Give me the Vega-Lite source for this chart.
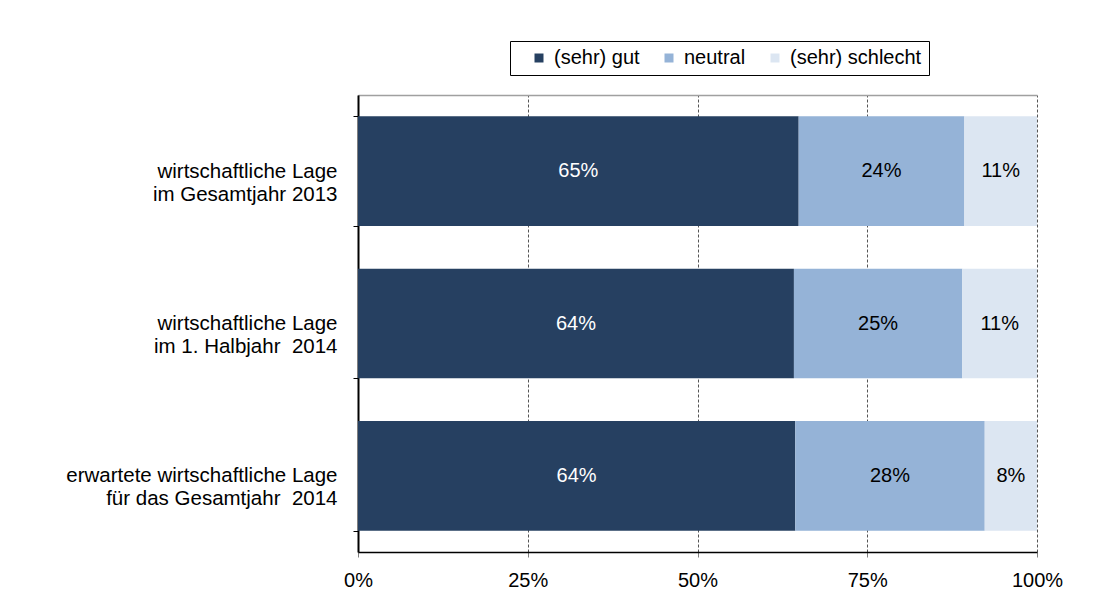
{
  "$schema": "https://vega.github.io/schema/vega-lite/v6.json",
  "width": 679,
  "height": 457,
  "autosize": "none",
  "padding": {"left": 358, "top": 95, "right": 73, "bottom": 64},
  "background": "white",
  "data": {
    "values": [
      {"lage": "wirtschaftliche Lage|im Gesamtjahr 2013", "kat": "(sehr) gut", "ord": 1, "anteil": 0.649},
      {"lage": "wirtschaftliche Lage|im Gesamtjahr 2013", "kat": "neutral", "ord": 2, "anteil": 0.244},
      {"lage": "wirtschaftliche Lage|im Gesamtjahr 2013", "kat": "(sehr) schlecht", "ord": 3, "anteil": 0.107},
      {"lage": "wirtschaftliche Lage|im 1. Halbjahr\u00a0 2014", "kat": "(sehr) gut", "ord": 1, "anteil": 0.642},
      {"lage": "wirtschaftliche Lage|im 1. Halbjahr\u00a0 2014", "kat": "neutral", "ord": 2, "anteil": 0.248},
      {"lage": "wirtschaftliche Lage|im 1. Halbjahr\u00a0 2014", "kat": "(sehr) schlecht", "ord": 3, "anteil": 0.110},
      {"lage": "erwartete wirtschaftliche Lage|für das Gesamtjahr\u00a0 2014", "kat": "(sehr) gut", "ord": 1, "anteil": 0.644},
      {"lage": "erwartete wirtschaftliche Lage|für das Gesamtjahr\u00a0 2014", "kat": "neutral", "ord": 2, "anteil": 0.279},
      {"lage": "erwartete wirtschaftliche Lage|für das Gesamtjahr\u00a0 2014", "kat": "(sehr) schlecht", "ord": 3, "anteil": 0.077}
    ]
  },
  "transform": [
    {"stack": "anteil", "groupby": ["lage"], "sort": [{"field": "ord", "order": "ascending"}], "as": ["v0", "v1"], "offset": "normalize"},
    {"calculate": "(datum.v0 + datum.v1) / 2", "as": "mid"}
  ],
  "layer": [
    {
      "mark": {"type": "bar"},
      "encoding": {
        "y": {
          "field": "lage", "type": "nominal", "sort": null,
          "scale": {"paddingInner": 0.28, "paddingOuter": 0.14},
          "axis": {
            "title": null,
            "labelExpr": "split(datum.label, '|')",
            "labelFont": "Liberation Sans", "labelFontSize": 20.5, "labelColor": "#000000",
            "labelLineHeight": 23, "labelPadding": 16, "labelLimit": 400,
            "tickBand": "extent", "tickColor": "#000000", "tickSize": 5,
            "domainColor": "#000000", "domainWidth": 2
          }
        },
        "x": {
          "field": "v0", "type": "quantitative",
          "scale": {"domain": [0, 1]},
          "axis": {
            "title": null, "format": ".0%", "values": [0, 0.25, 0.5, 0.75, 1],
            "labelFont": "Liberation Sans", "labelFontSize": 20, "labelColor": "#000000",
            "labelPadding": 13, "labelFlush": false, "tickColor": "#808080", "tickSize": 5,
            "domainColor": "#000000", "domainWidth": 1.5,
            "grid": true, "gridColor": "#555555", "gridDash": [3, 2], "gridWidth": 1
          }
        },
        "x2": {"field": "v1"},
        "color": {
          "field": "kat", "type": "nominal",
          "scale": {"domain": ["(sehr) gut", "neutral", "(sehr) schlecht"], "range": ["#264061", "#95B3D7", "#DCE6F2"]},
          "legend": {
            "title": null, "orient": "none", "legendX": 152, "legendY": -54,
            "direction": "horizontal", "strokeColor": "#000000", "padding": 7,
            "symbolType": "square", "symbolSize": 81, "symbolStrokeWidth": 0, "symbolOffset": 12,
            "labelFont": "Liberation Sans", "labelFontSize": 20, "labelColor": "#000000",
            "labelOffset": 5, "columnPadding": 7, "labelLimit": 300
          }
        }
      }
    },
    {
      "mark": {"type": "text", "font": "Liberation Sans", "fontSize": 20, "baseline": "middle", "align": "center"},
      "encoding": {
        "y": {"field": "lage", "type": "nominal", "sort": null},
        "x": {
          "field": "mid", "type": "quantitative",
          "axis": {"orient": "top", "labels": false, "ticks": false, "grid": false, "title": null, "domainColor": "#a0a0a0", "domainWidth": 1.5}
        },
        "text": {"field": "anteil", "type": "quantitative", "format": ".0%"},
        "color": {
          "condition": {"test": "datum.kat === '(sehr) gut'", "value": "#ffffff"},
          "value": "#000000"
        }
      }
    }
  ],
  "resolve": {"axis": {"x": "independent"}},
  "config": {"view": {"stroke": null}}
}
